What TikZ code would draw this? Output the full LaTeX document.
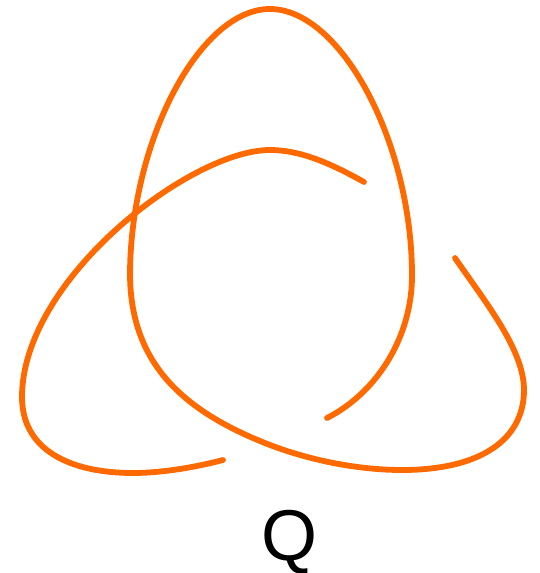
\documentclass[tikz,border=0pt]{standalone}
\usepackage{fontspec}
\setmainfont{Liberation Sans}
\definecolor{knot}{RGB}{255,106,0}
\begin{document}
\begin{tikzpicture}[x=1pt,y=-1pt,
  strand/.style={draw=knot,line width=5.8pt,line cap=round,line join=round}]
\useasboundingbox (0,0) rectangle (539,573);
\coordinate (s1a) at (327,418);
\coordinate (s1b) at (455,258);
\coordinate (s2a) at (364,182);
\coordinate (s2b) at (223,460);
% long over-strand: top lobe and right lobe
\draw[strand] (s1a)
  .. controls (378,392) and (413,335) .. (412,273)
  .. controls (411,140) and (340,9) .. (270,9)
  .. controls (200,9) and (131,140) .. (130,273)
  .. controls (130,365) and (185,412) .. (270,445)
  .. controls (312,461) and (360,470) .. (402,470)
  .. controls (480,470) and (524,440) .. (524,390)
  .. controls (524,350) and (486,303) .. (s1b);
% arch and left lobe
\draw[strand] (s2a)
  .. controls (330,163) and (300,150) .. (270,150)
  .. controls (190,150) and (22,280) .. (22,397)
  .. controls (22,450) and (70,473) .. (133,473)
  .. controls (165,473) and (200,466) .. (s2b);
\node[font=\fontsize{72}{72}\selectfont,anchor=base,inner sep=0pt] (q) at (289,560) {Q};
\end{tikzpicture}
\end{document}
